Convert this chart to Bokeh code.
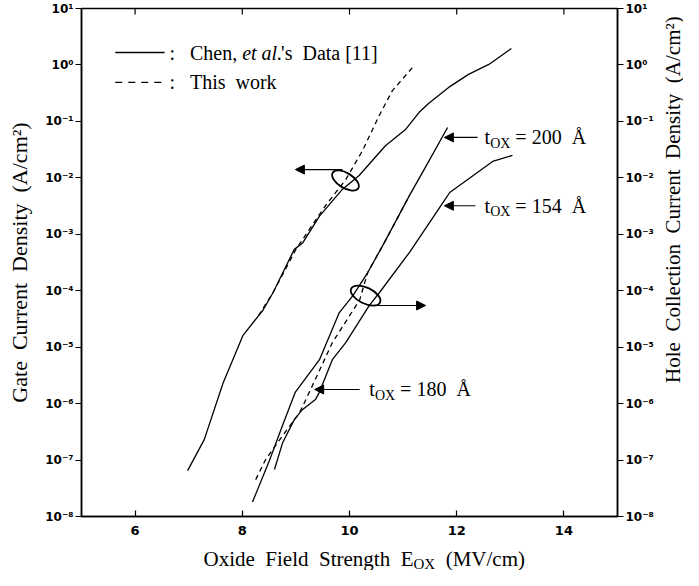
import math
from bokeh.plotting import figure
from bokeh.layouts import column, row
from bokeh.models import (Range1d, LogAxis, Label, Arrow, NormalHead,
                          CustomJSTickFormatter, FixedTicker)
from bokeh.embed import file_html
from bokeh.resources import INLINE

# ---------------- data ----------------
# Gate current density, Chen et al. (solid) and this work (dashed)
gate_chen_x = [6.98, 7.29, 7.64, 8.01, 8.39, 8.57, 8.97, 9.13, 9.44, 9.87, 10.18,
               10.67, 11.04, 11.30, 11.48, 11.85, 12.22, 12.60, 13.02]
gate_chen_y = [6.5e-8, 2.3e-7, 2.3e-6, 1.6e-5, 4.6e-5, 9.1e-5, 5.4e-4, 7.1e-4, 2.1e-3,
               6.3e-3, 1.1e-2, 3.7e-2, 7.1e-2, 0.145, 0.21, 0.40, 0.68, 1.02, 1.95]
gate_work_x = [8.30, 8.57, 9.00, 9.55, 9.93, 10.24, 10.56, 10.80, 11.17]
gate_work_y = [3.6e-5, 9.1e-5, 5.4e-4, 3.2e-3, 9.3e-3, 3.0e-2, 0.13, 0.35, 0.89]

# Hole collection current density, Chen et al. (solid)
hole_200_x = [8.19, 8.51, 8.75, 8.99, 9.44, 9.81, 10.06, 10.34, 10.65, 11.12, 11.47, 11.83]
hole_200_y = [1.8e-8, 1.0e-7, 4.1e-7, 1.6e-6, 6.0e-6, 4.1e-5, 8.1e-5, 2.1e-4, 7.1e-4,
              4.9e-3, 1.9e-2, 7.8e-2]
hole_154_x = [9.44, 9.68, 9.93, 10.37, 10.56, 11.12, 11.74, 11.87, 12.67, 13.04]
hole_154_y = [1.6e-6, 6.0e-6, 1.2e-5, 5.5e-5, 9.3e-5, 4.8e-4, 3.6e-3, 5.5e-3, 1.95e-2, 2.5e-2]
hole_180_x = [8.60, 8.75, 8.97, 9.12, 9.37, 9.44]
hole_180_y = [6.8e-8, 2.0e-7, 5.2e-7, 7.8e-7, 1.2e-6, 1.6e-6]
# Hole collection current density, this work (dashed)
hole_work_x = [8.25, 8.43, 8.75, 9.07, 9.31, 9.68, 10.19, 10.34, 10.65, 11.12]
hole_work_y = [4.5e-8, 1.0e-7, 2.7e-7, 6.9e-7, 2.1e-6, 1.2e-5, 6.9e-5, 2.1e-4, 7.1e-4, 4.9e-3]

x_ticks = [6, 8, 10, 12, 14]
y_ticks = [1e-8, 1e-7, 1e-6, 1e-5, 1e-4, 1e-3, 1e-2, 1e-1, 1e0, 1e1]

# annotation anchors (data space)
loop_x = [9.925, 10.30]
loop_y = [8.97e-3, 8.2e-5]
arrow_gate = (9.87, 1.40e-2, 8.99, 1.40e-2)
arrow_hole = (10.43, 5.47e-5, 11.42, 5.47e-5)
arrow_200 = (12.39, 5.2e-2, 11.77, 5.2e-2)
arrow_154 = (12.35, 3.2e-3, 11.77, 3.2e-3)
arrow_180 = (10.19, 1.78e-6, 9.35, 1.78e-6)

SERIF = "Liberation Serif"
TICKF = "DejaVu Sans"
NB = "\u00a0"

P_W_LEFT, P_W_FRAME, P_W_RIGHT = 81, 536, 40
P_H_TOP, P_H_FRAME, P_H_BOTTOM = 8, 508, 24
TOTAL_W = 683

p = figure(y_axis_type="log", x_range=Range1d(5, 15), y_range=Range1d(1e-8, 10),
           frame_width=P_W_FRAME, frame_height=P_H_FRAME,
           min_border_left=P_W_LEFT, min_border_right=P_W_RIGHT,
           min_border_top=P_H_TOP, min_border_bottom=P_H_BOTTOM,
           output_backend="svg", toolbar_location=None)
p.xgrid.visible = False
p.ygrid.visible = False
p.outline_line_color = "black"
p.outline_line_width = 1.5
p.background_fill_color = "white"
p.border_fill_color = "white"

fmt_code = """
const e = Math.round(Math.log10(tick));
const m = {'-':'\u207b','0':'\u2070','1':'\u00b9','2':'\u00b2','3':'\u00b3','4':'\u2074',
           '5':'\u2075','6':'\u2076','7':'\u2077','8':'\u2078','9':'\u2079'};
return '10' + String(e).split('').map(c => m[c]).join('');
"""

def style_axis(ax, tick_in, tick_out, label_size="12px"):
    ax.axis_line_color = "black"
    ax.axis_line_width = 1.5
    ax.major_tick_line_color = "black"
    ax.major_tick_line_width = 1.2
    ax.major_tick_in = tick_in
    ax.major_tick_out = tick_out
    ax.minor_tick_in = 0
    ax.minor_tick_out = 0
    ax.minor_tick_line_color = None
    ax.major_label_text_font = TICKF
    ax.major_label_text_font_style = "bold"
    ax.major_label_text_font_size = label_size
    ax.major_label_text_color = "black"
    ax.axis_label_text_font = SERIF
    ax.axis_label_text_font_style = "normal"
    ax.axis_label_text_font_size = "22px"
    ax.axis_label_text_color = "black"

# bottom
style_axis(p.xaxis[0], 6, 0, "13px")
p.xaxis[0].ticker = FixedTicker(ticks=x_ticks)
p.xaxis[0].major_label_standoff = 9
# left
style_axis(p.yaxis[0], 0, 6)
p.yaxis[0].ticker = FixedTicker(ticks=y_ticks)
p.yaxis[0].formatter = CustomJSTickFormatter(code=fmt_code)
p.yaxis[0].major_label_standoff = 2
p.yaxis[0].axis_label = NB.join(["Gate", "", "Current", "", "Density", "", "(A/cm\u00b2)"])
p.yaxis[0].axis_label_standoff = 10
# right
ra = LogAxis(ticker=FixedTicker(ticks=y_ticks), formatter=CustomJSTickFormatter(code=fmt_code))
style_axis(ra, 0, 6)
ra.major_label_standoff = 2
p.add_layout(ra, "right")

# top tick marks (inward), placed at the x tick values
top_tick_len = 10 ** (1 - 6 / 56.44)
p.segment(x0=x_ticks, y0=[10] * len(x_ticks), x1=x_ticks, y1=[top_tick_len] * len(x_ticks),
          line_color="black", line_width=1.2)

# curves
p.line(gate_chen_x, gate_chen_y, line_color="black", line_width=1.3)
p.line(gate_work_x, gate_work_y, line_color="black", line_width=1.3, line_dash="5 4")
p.line(hole_200_x, hole_200_y, line_color="black", line_width=1.3)
p.line(hole_154_x, hole_154_y, line_color="black", line_width=1.3)
p.line(hole_180_x, hole_180_y, line_color="black", line_width=1.3)
p.line(hole_work_x, hole_work_y, line_color="black", line_width=1.3, line_dash="5 4")

# loops
p.ellipse(x=loop_x, y=loop_y, width=[30, 32], height=[15, 16], angle=[-0.55, -0.45],
          width_units="screen", height_units="screen",
          fill_alpha=0, line_color="black", line_width=1.8)

for (xs, ys, xe, ye) in [arrow_gate, arrow_hole, arrow_200, arrow_154, arrow_180]:
    p.add_layout(Arrow(x_start=xs, y_start=ys, x_end=xe, y_end=ye, line_color="black",
                       line_width=1.2,
                       end=NormalHead(size=9, fill_color="black", line_color="black")))

# ---------- text helpers ----------
W = {' ': .25, NB: .25, 'a': .444, 'b': .5, 'c': .444, 'd': .5, 'e': .444, 'f': .333,
     'g': .5, 'h': .5, 'i': .278, 'k': .5, 'l': .278, 'm': .778, 'n': .5, 'o': .5,
     'r': .333, 's': .389, 't': .278, 'u': .5, 'w': .722, 'x': .5, 'y': .5, 'A': .722,
     'C': .667, 'D': .722, 'E': .611, 'F': .556, 'H': .722, 'M': .889, 'O': .722,
     'S': .556, 'T': .611, 'V': .722, 'X': .722, '(': .333, ')': .333, '/': .278,
     '[': .333, ']': .333, ',': .25, '.': .25, ':': .278, "'": .18, '=': .564,
     '\u00c5': .722, '\u00b2': .3}

def tw(s, size):
    return sum(W.get(c, .5) for c in s) * size

def seq(fig, x, y, parts, x0=0, y0=0):
    off = 0.0
    for text, size, style, dy in parts:
        fig.add_layout(Label(x=x, y=y, x_offset=x0 + off, y_offset=y0 + dy, text=text,
                             text_font=SERIF, text_font_size=f"{size}px",
                             text_font_style=style, text_color="black",
                             text_align="left", text_baseline="middle"))
        off += tw(text, size)

# legend
legend_x = [5.63, 6.55]
legend_y = [1.66, 0.49]
p.add_layout(Arrow(x_start=legend_x[0], y_start=legend_y[0], x_end=legend_x[1],
                   y_end=legend_y[0], end=None, line_color="black", line_width=1.3))
p.add_layout(Arrow(x_start=legend_x[0], y_start=legend_y[1], x_end=legend_x[1],
                   y_end=legend_y[1], end=None, line_color="black", line_width=1.3,
                   line_dash="7 6"))
seq(p, 6.64, legend_y[0], [(":" + NB * 3 + "Chen," + NB, 20, "normal", 0),
                           ("et" + NB + "al.", 20, "italic", 0),
                           ("'s" + NB * 2 + "Data" + NB + "[11]", 20, "normal", 0)])
seq(p, 6.64, legend_y[1], [(":" + NB * 3 + "This" + NB * 2 + "work", 20, "normal", 0)])

# thickness labels
for lx, ly, num in [(12.52, 5.2e-2, "200"), (12.52, 3.2e-3, "154"), (10.37, 1.78e-6, "180")]:
    seq(p, lx, ly, [("t", 20, "normal", 0), ("OX", 14, "normal", -6),
                    (NB + "=" + NB + num + NB * 2 + "\u00c5", 20, "normal", 0)])

# right-hand title strip
P_H = P_H_TOP + P_H_FRAME + P_H_BOTTOM
RW = TOTAL_W - (P_W_LEFT + P_W_FRAME + P_W_RIGHT)
rf = figure(width=RW, height=P_H, x_range=Range1d(0, RW), y_range=Range1d(0, P_H),
            output_backend="svg", toolbar_location=None, min_border=0,
            x_axis_location=None, y_axis_location=None)
rf.outline_line_color = None
rf.grid.visible = False
rf.background_fill_color = "white"
rf.border_fill_color = "white"
rf.add_layout(Label(x=RW - 11, y=P_H - 398, angle=math.pi / 2,
                    text=NB.join(["Hole", "", "Collection", "", "Current", "", "Density", "",
                                  "(A/cm\u00b2)"]),
                    text_font=SERIF, text_font_size="21px", text_color="black",
                    text_align="left", text_baseline="middle"))

# x-axis title strip (below the plot), with the OX subscript
TH = 30
tf = figure(width=TOTAL_W, height=TH, x_range=Range1d(0, TOTAL_W), y_range=Range1d(0, TH),
            output_backend="svg", toolbar_location=None, min_border=0,
            x_axis_location=None, y_axis_location=None)
tf.outline_line_color = None
tf.grid.visible = False
tf.background_fill_color = "white"
tf.border_fill_color = "white"
seq(tf, 203, 12, [(NB.join(["Oxide", "", "Field", "", "Strength", "", "E"]), 21, "normal", 0),
                  ("OX", 15, "normal", -5),
                  (NB * 2 + "(MV/cm)", 21, "normal", 0)])

layout = column(row(p, rf, spacing=0), tf, spacing=0)
open("out.html", "w").write(file_html(layout, INLINE))
